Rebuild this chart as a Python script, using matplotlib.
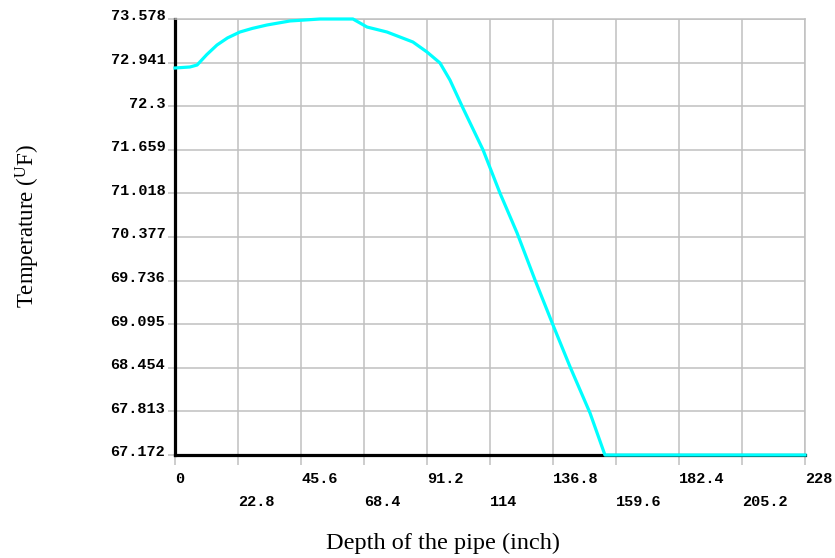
import numpy as np
import matplotlib
matplotlib.use("Agg")
import matplotlib.pyplot as plt
from matplotlib.transforms import ScaledTranslation

# ---- data ----
depth = [0, 5.4, 8.0, 11.5, 15.2, 19.0, 23.5, 28.0, 33.3, 41.6, 52.5, 64.4,
         69.5, 76.7, 86.1, 91.2, 95.9, 99.5, 104.2, 111.5, 117.6, 123.8,
         130.3, 136.8, 143.0, 150.2, 155.6, 228]
temp = [72.858, 72.873, 72.902, 73.055, 73.196, 73.300, 73.387, 73.440,
        73.490, 73.549, 73.578, 73.578, 73.460, 73.387, 73.240, 73.093,
        72.932, 72.682, 72.270, 71.653, 71.021, 70.434, 69.743, 69.082,
        68.465, 67.789, 67.172, 67.172]

x_major = [0, 45.6, 91.2, 136.8, 182.4, 228]
x_minor = [22.8, 68.4, 114, 159.6, 205.2]
x_major_lab = ['0', '45.6', '91.2', '136.8', '182.4', '228']
x_minor_lab = ['22.8', '68.4', '114', '159.6', '205.2']
y_ticks = np.linspace(67.172, 73.578, 11)
y_lab = ['67.172', '67.813', '68.454', '69.095', '69.736', '70.377',
         '71.018', '71.659', '72.3', '72.941', '73.578']

grey = '#c0c0c0'
tickfont = dict(family='Liberation Mono', weight='bold', size=11)

fig = plt.figure(figsize=(8.35, 5.58), dpi=100)
ax = fig.add_axes([175/835, 1-455/558, 630/835, 436/558])

ax.plot(depth, temp, color='#00ffff', lw=2.3, zorder=5, clip_on=False)

ax.set_xlim(0, 228)
ax.set_ylim(67.172, 73.578)

ax.set_xticks(x_major)
ax.set_xticklabels(x_major_lab, fontdict=tickfont, ha='left')
ax.set_xticks(x_minor, minor=True)
ax.set_xticklabels(x_minor_lab, minor=True, fontdict=tickfont, ha='left')
ax.set_yticks(y_ticks)
ax.set_yticklabels(y_lab, fontdict=tickfont)

ax.tick_params(axis='x', which='both', length=7, width=1.1, color=grey)
ax.tick_params(axis='x', which='major', pad=5)
ax.tick_params(axis='x', which='minor', pad=21.5)
ax.tick_params(axis='y', length=5, width=1.1, color=grey, pad=2)

off = ScaledTranslation(0, 3/72, fig.dpi_scale_trans)
for t in ax.get_yticklabels():
    t.set_transform(t.get_transform() + off)

ax.grid(True, which='both', color=grey, lw=1.1)
ax.set_axisbelow(True)

for s in ['top', 'right']:
    ax.spines[s].set_color(grey)
    ax.spines[s].set_linewidth(1.1)
for s in ['left', 'bottom']:
    ax.spines[s].set_color('black')
    ax.spines[s].set_linewidth(2.3)

fig.text(443/835, 1-543/558, 'Depth of the pipe (inch)', ha='center', va='center',
         family='Liberation Serif', size=17.5)
fig.text(28/835, 1-226/558, r'Temperature ($\mathregular{^{U}}$F)', ha='center',
         va='center', rotation=90, family='Liberation Serif', size=16.5)

fig.savefig('out.png', dpi=100)
